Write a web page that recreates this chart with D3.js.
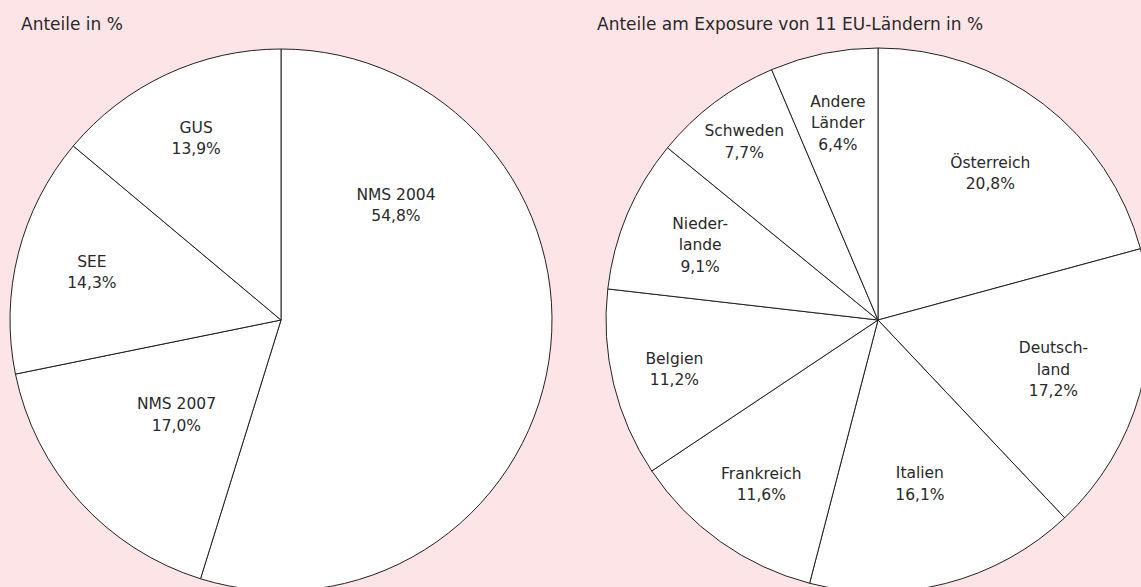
<!DOCTYPE html>
<html>
<head>
<meta charset="utf-8">
<script src="https://cdn.jsdelivr.net/npm/d3@7"></script>
<style>
body { margin: 0; background: #fde4e7; }
svg { display: block; }
text { font-family: "DejaVu Sans", sans-serif; font-size: 15.5px; fill: #2a2a2a; }
.title { font-size: 17px; }
</style>
</head>
<body>
<svg id="chart" width="1141" height="587"></svg>
<script>
// data
var leftTitle = "Anteile in %";
var leftLabels = [["NMS 2004"], ["NMS 2007"], ["SEE"], ["GUS"]];
var leftValues = [54.8, 17.0, 14.3, 13.9];

var rightTitle = "Anteile am Exposure von 11 EU-Ländern in %";
var rightLabels = [["Österreich"], ["Deutsch-", "land"], ["Italien"], ["Frankreich"],
                   ["Belgien"], ["Nieder-", "lande"], ["Schweden"], ["Andere", "Länder"]];
var rightValues = [20.8, 17.2, 16.1, 11.6, 11.2, 9.1, 7.7, 6.4];

// label distance from centre, as fraction of radius (layout only)
var leftLabelR = [0.60, 0.52, 0.72, 0.74];
var rightLabelR = [0.68, 0.67, 0.62, 0.74, 0.77, 0.71, 0.82, 0.74];

var fmt = function(v){ return d3.format(".1f")(v).replace(".", ",") + "%"; };
var svg = d3.select("#chart");

function drawPie(cx, cy, r, labels, values, labelR, title, titleX){
	svg.append("text")
		.attr("class", "title")
		.attr("x", titleX)
		.attr("y", 30)
		.text(title);

	var pie = d3.pie().sort(null).value(function(d){ return d; });
	var arcs = pie(values);
	var arc = d3.arc().innerRadius(0).outerRadius(r);

	var g = svg.append("g").attr("transform", "translate(" + cx + "," + cy + ")");

	g.selectAll("path")
		.data(arcs)
		.enter()
		.append("path")
			.attr("d", arc)
			.attr("fill", "#fff")
			.attr("stroke", "#222")
			.attr("stroke-width", 1)
			.attr("stroke-linejoin", "round");

	var lineH = 21.5;
	arcs.forEach(function(a, i){
		// big slices: label sits in the first quarter of the slice
		var span = Math.min(a.endAngle - a.startAngle, Math.PI / 2);
		var ang = a.startAngle + span / 2;
		var rr = r * labelR[i];
		var x = Math.sin(ang) * rr;
		var y = -Math.cos(ang) * rr;
		var lines = labels[i].concat([fmt(values[i])]);
		var t = g.append("text")
			.attr("text-anchor", "middle")
			.attr("x", x)
			.attr("y", y - (lines.length - 1) * lineH / 2);
		lines.forEach(function(s, k){
			t.append("tspan")
				.attr("x", x)
				.attr("dy", k == 0 ? "0.35em" : lineH)
				.text(s);
		});
	});
}

drawPie(281, 320, 271, leftLabels, leftValues, leftLabelR, leftTitle, 21);
drawPie(878, 320, 272, rightLabels, rightValues, rightLabelR, rightTitle, 597);
</script>
</body>
</html>
